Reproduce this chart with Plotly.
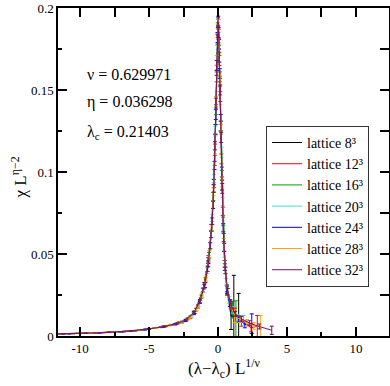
import plotly.graph_objects as go

# ---------------- data ----------------
labels = ["lattice 8³", "lattice 12³", "lattice 16³", "lattice 20³",
          "lattice 24³", "lattice 28³", "lattice 32³"]
colors = ["#000000", "#ff0000", "#00a000", "#40e0d0", "#0000ff", "#ffa500", "#7a1060"]

x8 = [-12.5, -9.0, -6.0, -4.0, -2.6, -1.7, -1.1, -0.7, -0.45, -0.3, -0.18, -0.08, 0.0, 0.05, 0.12, 0.2, 0.3, 0.45, 0.65, 0.95, 1.15, 1.5]
y8 = [0.0011, 0.0018, 0.0032, 0.0056, 0.0085, 0.0145, 0.028, 0.046, 0.066, 0.093, 0.126, 0.165, 0.186, 0.178, 0.158, 0.128, 0.092, 0.054, 0.028, 0.012, 0.013, 0.010]
e8 = [0.0001, 0.0001, 0.0002, 0.0003, 0.0005, 0.0008, 0.0012, 0.0018, 0.002, 0.0025, 0.003, 0.003, 0.003, 0.003, 0.003, 0.003, 0.003, 0.0025, 0.003, 0.008, 0.024, 0.016]

x12 = [-12.2, -10.5, -8.2, -6.5, -5.0, -3.8, -2.8, -2.0, -1.45, -1.0, -0.7, -0.48, -0.32, -0.2, -0.1, -0.02, 0.04, 0.1, 0.17, 0.25, 0.35, 0.48, 0.65, 0.9, 1.25, 1.7, 2.4, 2.85]
y12 = [0.0012, 0.0014, 0.0021, 0.0029, 0.0043, 0.006, 0.0082, 0.0115, 0.018, 0.031, 0.047, 0.066, 0.09, 0.12, 0.158, 0.185, 0.184, 0.168, 0.146, 0.108, 0.076, 0.044, 0.029, 0.02, 0.013, 0.009, 0.005, 0.006]
e12 = [0.0001, 0.0001, 0.0001, 0.0002, 0.0003, 0.0004, 0.0005, 0.0007, 0.001, 0.0015, 0.002, 0.002, 0.0025, 0.003, 0.003, 0.003, 0.003, 0.003, 0.003, 0.003, 0.0025, 0.002, 0.002, 0.002, 0.004, 0.003, 0.0025, 0.0065]

x16 = [-12.3, -9.5, -7.0, -5.2, -3.9, -2.9, -2.2, -1.6, -1.2, -0.9, -0.65, -0.46, -0.33, -0.23, -0.15, -0.08, -0.02, 0.03, 0.08, 0.14, 0.21, 0.29, 0.38, 0.5, 0.66, 0.88, 1.05, 1.3]
y16 = [0.0012, 0.0017, 0.0025, 0.0041, 0.0058, 0.0078, 0.0105, 0.016, 0.024, 0.034, 0.049, 0.066, 0.085, 0.107, 0.138, 0.168, 0.188, 0.19, 0.174, 0.155, 0.128, 0.098, 0.07, 0.044, 0.029, 0.02, 0.016, 0.009]
e16 = [0.0001, 0.0001, 0.0002, 0.0002, 0.0003, 0.0004, 0.0006, 0.0008, 0.001, 0.0015, 0.002, 0.002, 0.0025, 0.003, 0.003, 0.003, 0.003, 0.003, 0.003, 0.003, 0.003, 0.003, 0.0025, 0.002, 0.002, 0.002, 0.005, 0.0125]

x20 = [-12.1, -10.0, -7.8, -6.0, -4.5, -3.4, -2.6, -1.9, -1.4, -1.05, -0.78, -0.57, -0.41, -0.29, -0.19, -0.11, -0.05, 0.0, 0.05, 0.11, 0.18, 0.26, 0.35, 0.46, 0.6, 0.8, 1.05, 1.4, 1.85]
y20 = [0.0012, 0.0015, 0.0022, 0.0033, 0.005, 0.0068, 0.0086, 0.0122, 0.019, 0.028, 0.04, 0.055, 0.072, 0.096, 0.125, 0.152, 0.174, 0.19, 0.182, 0.164, 0.138, 0.112, 0.082, 0.05, 0.033, 0.022, 0.016, 0.011, 0.0095]
e20 = [0.0001, 0.0001, 0.0001, 0.0002, 0.0003, 0.0004, 0.0005, 0.0007, 0.001, 0.0013, 0.0018, 0.002, 0.0022, 0.0025, 0.003, 0.003, 0.003, 0.003, 0.003, 0.003, 0.003, 0.003, 0.0025, 0.002, 0.002, 0.002, 0.002, 0.002, 0.003]

x24 = [-12.4, -10.8, -8.6, -6.8, -5.3, -4.1, -3.1, -2.35, -1.75, -1.3, -0.95, -0.7, -0.5, -0.36, -0.25, -0.16, -0.09, -0.03, 0.02, 0.07, 0.13, 0.2, 0.28, 0.38, 0.5, 0.66, 0.86, 1.12, 1.5, 1.95, 2.45]
y24 = [0.0011, 0.0013, 0.0019, 0.0027, 0.0039, 0.0054, 0.0071, 0.0094, 0.0138, 0.021, 0.031, 0.044, 0.062, 0.08, 0.104, 0.135, 0.162, 0.182, 0.192, 0.178, 0.16, 0.132, 0.1, 0.066, 0.042, 0.028, 0.02, 0.014, 0.0105, 0.007, 0.0075]
e24 = [0.0001, 0.0001, 0.0001, 0.0002, 0.0003, 0.0003, 0.0004, 0.0006, 0.0008, 0.001, 0.0015, 0.0018, 0.002, 0.0022, 0.0025, 0.003, 0.003, 0.003, 0.003, 0.003, 0.003, 0.003, 0.003, 0.0025, 0.002, 0.002, 0.002, 0.002, 0.002, 0.002, 0.006]

x28 = [-12.2, -11.0, -9.2, -7.4, -5.8, -4.5, -3.5, -2.7, -2.05, -1.55, -1.15, -0.85, -0.62, -0.45, -0.32, -0.22, -0.14, -0.07, -0.01, 0.04, 0.09, 0.15, 0.22, 0.3, 0.4, 0.53, 0.7, 0.92, 1.2, 1.6, 2.1, 2.6, 3.1]
y28 = [0.0012, 0.0014, 0.0018, 0.0025, 0.0034, 0.0049, 0.0065, 0.0083, 0.011, 0.0165, 0.025, 0.035, 0.05, 0.066, 0.088, 0.114, 0.143, 0.168, 0.187, 0.19, 0.175, 0.156, 0.126, 0.094, 0.062, 0.04, 0.027, 0.019, 0.012, 0.0102, 0.008, 0.0062, 0.006]
e28 = [0.0001, 0.0001, 0.0001, 0.0002, 0.0002, 0.0003, 0.0004, 0.0005, 0.0007, 0.001, 0.0013, 0.0016, 0.002, 0.002, 0.0025, 0.003, 0.003, 0.003, 0.003, 0.003, 0.003, 0.003, 0.003, 0.003, 0.0025, 0.002, 0.002, 0.002, 0.004, 0.002, 0.002, 0.002, 0.0066]

x32 = [-12.3, -11.2, -9.6, -7.9, -6.3, -5.0, -3.9, -3.0, -2.3, -1.75, -1.32, -1.0, -0.75, -0.56, -0.42, -0.31, -0.22, -0.15, -0.09, -0.04, 0.01, 0.05, 0.1, 0.16, 0.23, 0.31, 0.41, 0.54, 0.71, 0.94, 1.25, 1.7, 2.3, 3.0, 3.9]
y32 = [0.0012, 0.0013, 0.0017, 0.0023, 0.0031, 0.0043, 0.0058, 0.0076, 0.0098, 0.0142, 0.021, 0.03, 0.041, 0.055, 0.07, 0.09, 0.116, 0.142, 0.165, 0.181, 0.191, 0.185, 0.17, 0.15, 0.121, 0.09, 0.06, 0.04, 0.027, 0.019, 0.0135, 0.0105, 0.0078, 0.0058, 0.0035]
e32 = [0.0001, 0.0001, 0.0001, 0.0001, 0.0002, 0.0003, 0.0003, 0.0004, 0.0005, 0.0007, 0.001, 0.0013, 0.0016, 0.0018, 0.002, 0.0022, 0.0025, 0.003, 0.003, 0.003, 0.003, 0.003, 0.003, 0.003, 0.003, 0.003, 0.0025, 0.002, 0.002, 0.002, 0.0015, 0.0015, 0.0015, 0.0015, 0.0025]

xs = [x8, x12, x16, x20, x24, x28, x32]
ys = [y8, y12, y16, y20, y24, y28, y32]
es = [e8, e12, e16, e20, e24, e28, e32]

x_ticks = [-10, -5, 0, 5, 10]
x_ticktext = ["-10", "-5", "0", "5", "10"]
y_ticks = [0, 0.05, 0.1, 0.15, 0.2]
y_ticktext = ["0", "0.05", "0.1", "0.15", "0.2"]
x_mirror_ticks = [-10, -7.5, -5, -2.5, 0, 2.5, 5, 7.5, 10]
y_mirror_ticks = [0.025, 0.05, 0.075, 0.1, 0.125, 0.15, 0.175]

annot_texts = ["ν = 0.629971", "η = 0.036298", "λ<sub>c</sub> = 0.21403"]

# ---------------- figure ----------------
SERIF = "Liberation Serif"
fig = go.Figure()
for lab, col, x, y, e in zip(labels, colors, xs, ys, es):
    fig.add_trace(go.Scatter(
        x=x, y=y, mode="lines", name=lab,
        line=dict(color=col, width=1),
        error_y=dict(type="data", array=e, color=col, thickness=1, width=2),
    ))

W, H = 390, 386
L, R, T, B = 58, 1, 5, 50
pw, ph = W - L - R, H - T - B

def px(xp):
    return (xp - L) / pw

def py(yp):
    return (H - B - yp) / ph

fig.update_layout(
    width=W, height=H,
    margin=dict(l=L, r=R, t=T, b=B),
    plot_bgcolor="white", paper_bgcolor="white",
    font=dict(family=SERIF, color="black", size=13),
    showlegend=True,
    legend=dict(x=px(266), y=py(124), xanchor="left", yanchor="top",
                bgcolor="white", bordercolor="#333", borderwidth=1,
                font=dict(family=SERIF, size=14, color="black"),
                tracegroupgap=0),
    xaxis=dict(range=[-11.6, 12.4], tickvals=x_ticks, ticktext=x_ticktext,
               ticks="inside", ticklen=9, tickwidth=1.5, tickcolor="black",
               minor=dict(dtick=2.5, tick0=0, ticks="inside", ticklen=4, tickwidth=1.5, tickcolor="black"),
               showline=True, linecolor="black", linewidth=1.5, showgrid=False, zeroline=False,
               ticklabeloverflow="allow",
               tickfont=dict(family=SERIF, size=13)),
    yaxis=dict(range=[0, 0.2], tickvals=y_ticks, ticktext=y_ticktext,
               ticks="inside", ticklen=9, tickwidth=1.5, tickcolor="black",
               minor=dict(dtick=0.025, tick0=0, ticks="inside", ticklen=4, tickwidth=1.5, tickcolor="black"),
               showline=True, linecolor="black", linewidth=1.5, showgrid=False, zeroline=False,
               ticklabeloverflow="allow",
               tickfont=dict(family=SERIF, size=13)),
    xaxis2=dict(range=[-11.6, 12.4], overlaying="x", side="top", anchor="y",
                tickvals=x_mirror_ticks, showticklabels=False,
                ticks="inside", ticklen=9, tickwidth=1.5, tickcolor="black",
                showline=True, linecolor="black", linewidth=1.5, showgrid=False, zeroline=False),
    yaxis2=dict(range=[0, 0.2], overlaying="y", side="right", anchor="x",
                tickvals=y_mirror_ticks, showticklabels=False,
                ticks="inside", ticklen=9, tickwidth=1.5, tickcolor="black",
                showline=True, linecolor="black", linewidth=1.5, showgrid=False, zeroline=False),
)

# invisible trace to activate the mirror axes
fig.add_trace(go.Scatter(x=[None], y=[None], xaxis="x2", yaxis="y2", showlegend=False, hoverinfo="skip"))

ann_y = [72, 100, 131]
for txt, yp in zip(annot_texts, ann_y):
    fig.add_annotation(text=txt, xref="paper", yref="paper", x=px(85), y=py(yp),
                       xanchor="left", yanchor="middle", showarrow=False,
                       font=dict(family=SERIF, size=16, color="black"))

fig.add_annotation(text="(λ−λ<sub>c</sub>) L<sup>1/ν</sup>", xref="paper", yref="paper",
                   x=px(224), y=py(369), xanchor="center", yanchor="middle", showarrow=False,
                   font=dict(family=SERIF, size=17, color="black"))
fig.add_annotation(text="χ L<sup>η−2</sup>", xref="paper", yref="paper",
                   x=px(19), y=py(176), xanchor="center", yanchor="middle", showarrow=False,
                   textangle=-90, font=dict(family=SERIF, size=17, color="black"))

fig.write_html("out.html", config={"displayModeBar": False},
               post_script="document.body.style.margin='0px';")
